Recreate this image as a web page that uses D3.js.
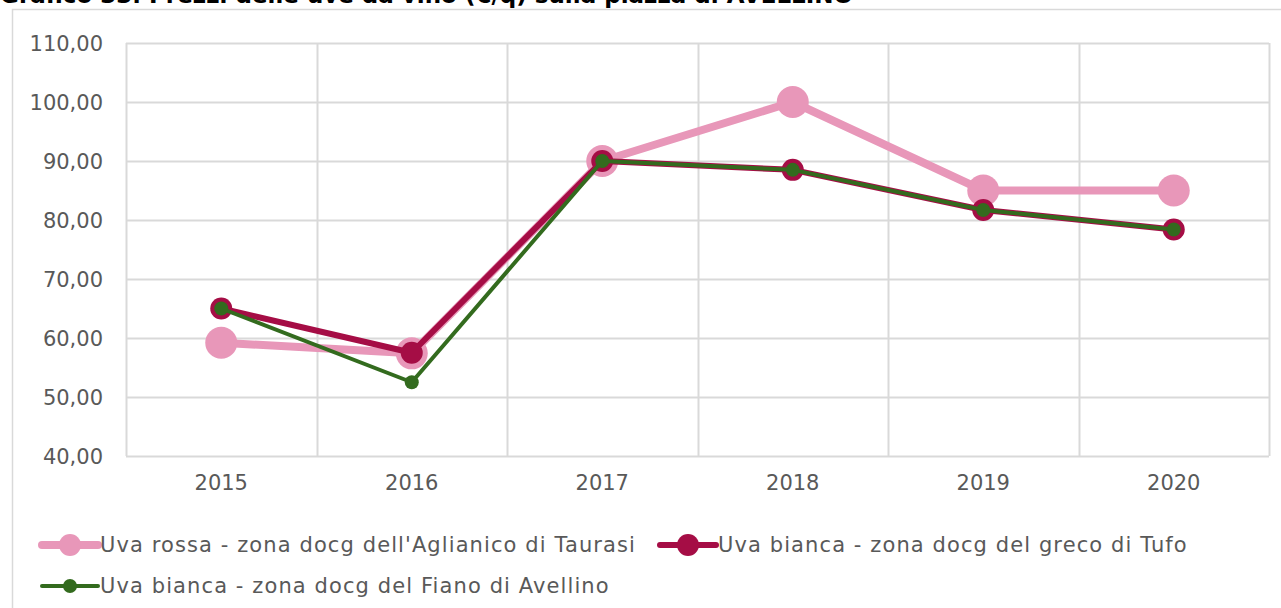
<!DOCTYPE html>
<html>
<head>
<meta charset="utf-8">
<script src="https://cdn.jsdelivr.net/npm/d3@7"></script>
<style>
  body { margin: 0; background: #fff; }
  svg { display: block; font-family: 'DejaVu Sans', sans-serif; }
</style>
</head>
<body>
<svg id="chart" width="1281" height="608"></svg>
<script>
// prezzi uve da vino, piazza di Avellino
var years = ['2015', '2016', '2017', '2018', '2019', '2020'];
var aglianico = [59.2, 57.4, 90.0, 100.0, 85.0, 85.0];
var greco = [65.0, 57.5, 90.0, 88.5, 81.7, 78.4];
var fiano = [65.0, 52.5, 90.0, 88.5, 81.7, 78.4];
var yTicks = [40, 50, 60, 70, 80, 90, 100, 110];

var series = [
    { name: "Uva rossa - zona docg dell'Aglianico di Taurasi", values: aglianico, color: '#e897b9', width: 8, r: 16 },
    { name: 'Uva bianca - zona docg del greco di Tufo', values: greco, color: '#a50d45', width: 6, r: 11 },
    { name: 'Uva bianca - zona docg del Fiano di Avellino', values: fiano, color: '#336b1e', width: 4, r: 7 }
];

var svg = d3.select('#chart');
var plotL = 126, plotR = 1269, plotT = 43, plotB = 456;

// titolo (tagliato in alto come nell'originale)
svg.append('text')
    .attr('x', 0).attr('y', 3)
    .style('font-size', '23px').style('font-weight', 'bold').attr('fill', '#000')
    .text('Grafico 33. Prezzi delle uve da vino (€/q) sulla piazza di AVELLINO');

// bordo area grafico
svg.append('path')
    .attr('d', 'M12.5,608 L12.5,9.5 L1281,9.5')
    .attr('fill', 'none').attr('stroke', '#d9d9d9').attr('stroke-width', 1.5);

var x = d3.scaleBand().domain(years).range([plotL, plotR]);
var y = d3.scaleLinear().domain([40, 110]).range([plotB, plotT]);

// griglia orizzontale
svg.append('g').selectAll('line').data(yTicks).enter().append('line')
    .attr('x1', plotL).attr('x2', plotR)
    .attr('y1', function (d) { return Math.round(y(d)) + 0.5; })
    .attr('y2', function (d) { return Math.round(y(d)) + 0.5; })
    .attr('stroke', '#d9d9d9').attr('stroke-width', 2);

// griglia verticale
var bounds = [plotL].concat(years.map(function (d) { return x(d) + x.bandwidth(); }));
svg.append('g').selectAll('line').data(bounds).enter().append('line')
    .attr('x1', function (d) { return Math.round(d) + 0.5; })
    .attr('x2', function (d) { return Math.round(d) + 0.5; })
    .attr('y1', plotT).attr('y2', plotB)
    .attr('stroke', '#d9d9d9').attr('stroke-width', 2);

var fmt = function (d) { return d3.format('.2f')(d).replace('.', ','); };

var yAxis = svg.append('g')
    .attr('transform', 'translate(' + (plotL - 23) + ',0)')
    .call(d3.axisLeft(y).tickValues(yTicks).tickFormat(fmt).tickSize(0).tickPadding(0));
yAxis.select('.domain').remove();
yAxis.selectAll('text').style('font-size', '21px').attr('fill', '#595959')
    .style('font-family', "'DejaVu Sans', sans-serif").attr('dy', '0.35em');

var xAxis = svg.append('g')
    .attr('transform', 'translate(0,' + plotB + ')')
    .call(d3.axisBottom(x).tickSize(0).tickPadding(19));
xAxis.select('.domain').remove();
xAxis.selectAll('text').style('font-size', '21px').attr('fill', '#595959')
    .style('font-family', "'DejaVu Sans', sans-serif");

var line = d3.line()
    .x(function (d, i) { return x(years[i]) + x.bandwidth() / 2; })
    .y(function (d) { return y(d); });

series.forEach(function (s) {
    var g = svg.append('g');
    g.append('path').datum(s.values)
        .attr('d', line)
        .attr('fill', 'none')
        .attr('stroke', s.color)
        .attr('stroke-width', s.width)
        .attr('stroke-linejoin', 'round');
    g.selectAll('circle').data(s.values).enter().append('circle')
        .attr('cx', function (d, i) { return x(years[i]) + x.bandwidth() / 2; })
        .attr('cy', function (d) { return y(d); })
        .attr('r', s.r)
        .attr('fill', s.color);
});

// legenda
var legendPos = [{ x: 40, y: 545 }, { x: 658, y: 545 }, { x: 40, y: 586 }];
var legendR = [11, 11, 7];
series.forEach(function (s, i) {
    var p = legendPos[i];
    var g = svg.append('g').attr('transform', 'translate(' + p.x + ',' + p.y + ')');
    g.append('line')
        .attr('x1', 2).attr('x2', 58).attr('y1', 0).attr('y2', 0)
        .attr('stroke', s.color).attr('stroke-width', s.width)
        .attr('stroke-linecap', 'round');
    g.append('circle').attr('cx', 30).attr('cy', 0).attr('r', legendR[i]).attr('fill', s.color);
    g.append('text')
        .attr('x', 60).attr('y', 0).attr('dy', '0.35em')
        .style('font-size', '21px').style('letter-spacing', '1.1px').attr('fill', '#595959')
        .text(s.name);
});
</script>
</body>
</html>
